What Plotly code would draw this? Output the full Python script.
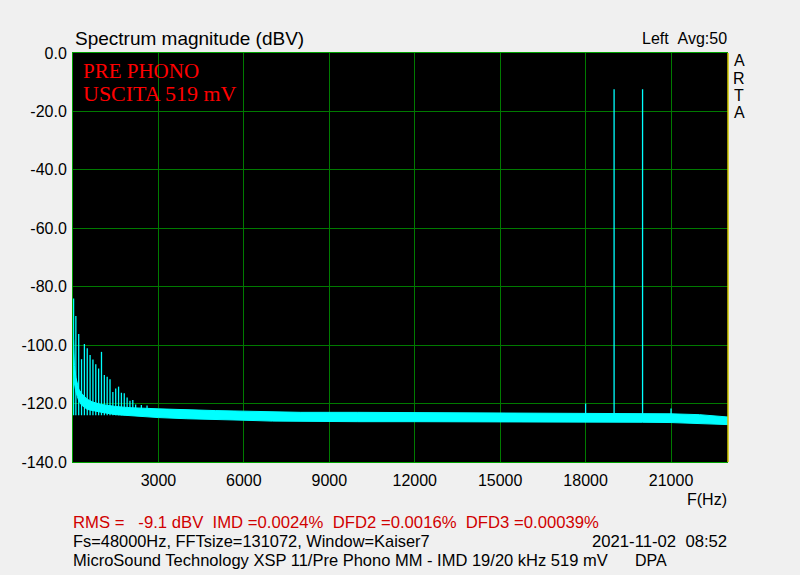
import plotly.graph_objects as go

# ---------------- data ----------------
# noise-floor band: frequency (Hz), upper and lower envelope (dBV)
floor_freq = [20, 50, 100, 150, 200, 300, 500, 700, 1000, 1500, 2000, 3000, 4000,
              5000, 6000, 7000, 8000, 10000, 12000, 14000, 16000, 18000, 20000,
              21000, 22000, 22500, 23000]
floor_upper = [-98.0, -107.0, -111.0, -113.0, -115.0, -116.5, -118.5, -119.5, -120.3,
               -121.0, -121.4, -121.8, -122.2, -122.4, -122.6, -122.9, -123.0, -123.0,
               -123.1, -123.1, -123.2, -123.2, -123.3, -123.5, -123.8, -124.2, -124.6]
floor_lower = [-106.0, -113.0, -116.0, -117.5, -119.0, -120.5, -122.0, -122.5, -123.0,
               -123.8, -124.2, -124.8, -125.2, -125.5, -125.7, -126.0, -126.1, -126.2,
               -126.2, -126.3, -126.3, -126.3, -126.4, -126.5, -126.8, -127.0, -127.2]

# discrete spectral lines: frequency (Hz) and peak level (dBV)
peak_freq = [20, 100, 200, 300, 400, 500, 600, 700, 800, 900, 1000, 1100, 1200, 1300,
             1400, 1500, 1600, 1700, 1800, 1900, 2000, 2100, 2200, 2400, 2600,
             18000, 19000, 20000, 21000]
peak_level = [-84.0, -90.0, -96.2, -104.8, -99.6, -101.1, -103.4, -104.9, -106.5, -108.0,
              -102.3, -110.2, -110.8, -111.7, -116.0, -114.8, -114.2, -116.3, -116.5,
              -117.9, -119.0, -118.8, -120.3, -120.5, -120.7,
              -120.0, -12.4, -12.4, -121.7]
peak_base = -124.0

x_ticks = [3000, 6000, 9000, 12000, 15000, 18000, 21000]
x_tick_labels = ["3000", "6000", "9000", "12000", "15000", "18000", "21000"]
y_ticks = [0, -20, -40, -60, -80, -100, -120, -140]
y_tick_labels = ["0.0", "-20.0", "-40.0", "-60.0", "-80.0", "-100.0", "-120.0", "-140.0"]

# ---------------- figure ----------------
W, H = 800, 575
L, R, T, B = 73, 72, 53, 113
PW, PH = W - L - R, H - T - B

def px(x):
    return (x - L) / PW

def py(y):
    return (H - B - y) / PH

CYAN = "#00ffff"
GRID = "#007a00"
BORDER = "#00a000"
SANS = "Liberation Sans, Arial, sans-serif"
SERIF = "Liberation Serif, Times New Roman, serif"

fig = go.Figure()

# noise band as a closed polygon from the envelopes
band_x = floor_freq + floor_freq[::-1]
band_y = floor_upper + floor_lower[::-1]
fig.add_trace(go.Scatter(x=band_x, y=band_y, mode="lines", fill="toself",
                         fillcolor=CYAN, line=dict(color=CYAN, width=1),
                         hoverinfo="skip", showlegend=False))

# spectral lines
sx, sy = [], []
for f, lv in zip(peak_freq, peak_level):
    sx += [f, f, None]
    sy += [peak_base, lv, None]
fig.add_trace(go.Scatter(x=sx, y=sy, mode="lines", line=dict(color=CYAN, width=1.3),
                         hoverinfo="skip", showlegend=False))

fig.update_layout(
    width=W, height=H,
    margin=dict(l=L, r=R, t=T, b=B, pad=0),
    paper_bgcolor="#f0f0f0", plot_bgcolor="black",
    showlegend=False,
    xaxis=dict(range=[0, 23000], tickvals=x_ticks, ticktext=x_tick_labels,
               showgrid=True, gridcolor=GRID, gridwidth=1, zeroline=False,
               showline=True, linecolor=BORDER, linewidth=1, mirror=True,
               ticks="", tickfont=dict(family=SANS, size=16, color="black"),
               ticklabelstandoff=4),
    yaxis=dict(range=[-140, 0], tickvals=y_ticks, ticktext=y_tick_labels,
               showgrid=True, gridcolor=GRID, gridwidth=1, zeroline=False,
               showline=True, linecolor=BORDER, linewidth=1, mirror=False,
               ticks="", tickfont=dict(family=SANS, size=16, color="black"),
               ticklabelstandoff=2),
)

# right border (yellow)
fig.add_shape(type="line", xref="paper", yref="paper", x0=1, x1=1, y0=0, y1=1,
              line=dict(color="#d0c800", width=1.5), layer="above")

def note(text, x, y, xanchor="left", size=16, color="black", family=SANS):
    fig.add_annotation(text=text, xref="paper", yref="paper", x=px(x), y=py(y),
                       xanchor=xanchor, yanchor="middle", showarrow=False,
                       font=dict(family=family, size=size, color=color))

note("Spectrum magnitude (dBV)", 73, 38, size=19)
note("Left\u00a0\u00a0Avg:50", 729, 39, xanchor="right")
for i, ch in enumerate("ARTA"):
    note(ch, 739, 61 + i * 17.3, xanchor="center")

note("PRE PHONO", 81, 71, size=21, color="#ff0000", family=SERIF)
note("USCITA 519 mV", 81, 93, size=22, color="#ff0000", family=SERIF)

note("F(Hz)", 729, 499, xanchor="right")
note("RMS =\u00a0\u00a0\u00a0-9.1 dBV\u00a0\u00a0IMD =0.0024%\u00a0\u00a0DFD2 =0.0016%\u00a0\u00a0DFD3 =0.00039%",
     71, 522, size=16.7, color="#d00000")
note("Fs=48000Hz, FFTsize=131072, Window=Kaiser7", 71, 541, size=16.4)
note("2021-11-02\u00a0\u00a008:52", 729, 541, xanchor="right", size=16.7)
note("MicroSound Technology XSP 11/Pre Phono MM - IMD 19/20 kHz 519 mV", 71, 560, size=16.5)
note("DPA", 633, 560)

fig.write_html("out.html", config={"displayModeBar": False},
               post_script="document.body.style.margin='0';document.body.style.background='#f0f0f0';")
